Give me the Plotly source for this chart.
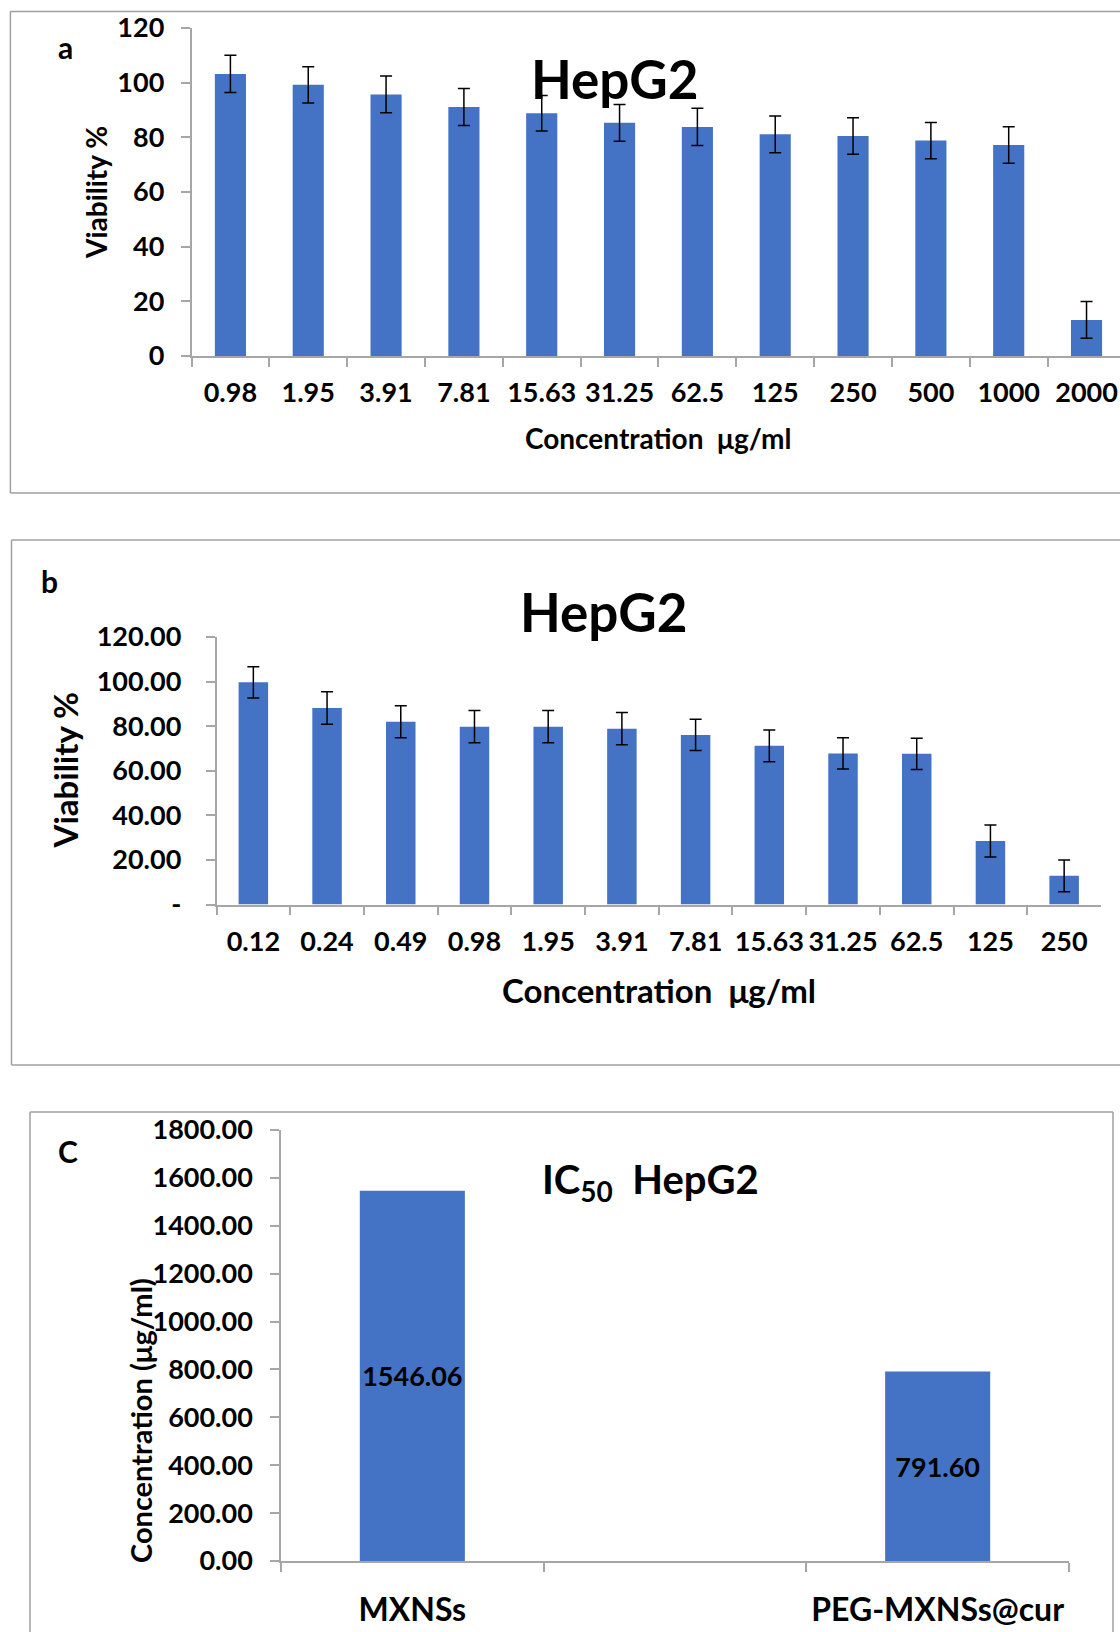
import plotly.graph_objects as go

# ---------------- data ----------------
a_conc = ["0.98", "1.95", "3.91", "7.81", "15.63", "31.25", "62.5", "125", "250", "500", "1000", "2000"]
a_viability = [103.2, 99.2, 95.7, 91.1, 88.8, 85.3, 83.8, 81.1, 80.5, 78.8, 77.2, 13.2]
a_err = [6.8, 6.6, 6.7, 6.8, 6.5, 6.7, 6.8, 6.7, 6.7, 6.6, 6.7, 6.7]

b_conc = ["0.12", "0.24", "0.49", "0.98", "1.95", "3.91", "7.81", "15.63", "31.25", "62.5", "125", "250"]
b_viability = [99.7, 88.2, 82.0, 79.8, 79.8, 78.9, 76.1, 71.2, 67.8, 67.6, 28.5, 12.9]
b_err = [7.0, 7.3, 7.2, 7.2, 7.2, 7.2, 7.0, 7.1, 7.0, 7.0, 7.2, 7.1]
b_tickvals = [0, 20, 40, 60, 80, 100, 120]
b_ticktext = ["-", "20.00", "40.00", "60.00", "80.00", "100.00", "120.00"]

c_samples = ["MXNSs", " ", "PEG-MXNSs@cur"]
c_ic50 = [1546.06, None, 791.60]

# ---------------- style ----------------
W, H = 1120, 1632
FONT = "Lato"
BLUE = "#4472C4"
AX = "#A6A6A6"
BORDER = "#A0A0A0"


def px(x):
    return x / W


def py(y):
    return 1 - y / H


fig = go.Figure()

err_style = dict(type="data", visible=True, color="black", thickness=1.5, width=6)

fig.add_trace(go.Bar(x=a_conc, y=a_viability, marker=dict(color=BLUE, line=dict(width=0)),
                     error_y=dict(array=a_err, **err_style), xaxis="x", yaxis="y"))
fig.add_trace(go.Bar(x=b_conc, y=b_viability, marker=dict(color=BLUE, line=dict(width=0)),
                     error_y=dict(array=b_err, **err_style), xaxis="x2", yaxis="y2"))
fig.add_trace(go.Bar(x=c_samples, y=c_ic50, marker=dict(color=BLUE, line=dict(width=0)),
                     texttemplate="%{y:.2f}", textposition="inside", insidetextanchor="middle",
                     constraintext="none", textangle=0,
                     textfont=dict(family=FONT, size=27, color="black", weight=700),
                     xaxis="x3", yaxis="y3"))

common_x = dict(type="category", showline=True, linecolor=AX, linewidth=1.5, ticks="outside",
                tickson="boundaries", ticklen=9, tickcolor=AX, tickwidth=1.5, showgrid=False,
                zeroline=False, fixedrange=True, automargin=False, tickangle=0)
common_y = dict(showline=True, linecolor=AX, linewidth=1.5, ticks="outside", ticklen=9,
                tickcolor=AX, tickwidth=1.5, showgrid=False, zeroline=False, fixedrange=True,
                automargin=False)

tick_font = dict(family=FONT, size=27, color="black", weight=700)

fig.update_layout(
    width=W, height=H, autosize=False,
    margin=dict(l=0, r=0, t=0, b=0, pad=0, autoexpand=False),
    paper_bgcolor="white", plot_bgcolor="white", showlegend=False, bargap=0.6,
    font=dict(family=FONT, color="black"),
    xaxis=dict(domain=[px(191.5), 1.0], range=[-0.5, 11.43], tickfont=tick_font,
               ticklabelstandoff=12, anchor="y", **common_x),
    yaxis=dict(domain=[py(356), py(28)], range=[0, 120], tickvals=[0, 20, 40, 60, 80, 100, 120],
               tickfont=tick_font, ticklabelstandoff=11, anchor="x", **common_y),
    xaxis2=dict(domain=[px(216.5), px(1101)], range=[-0.5, 11.5], tickfont=tick_font,
                ticklabelstandoff=12, anchor="y2", **common_x),
    yaxis2=dict(domain=[py(904.6), py(637)], range=[0, 120], tickvals=b_tickvals, ticktext=b_ticktext,
                tickfont=tick_font, ticklabelstandoff=19, anchor="x2", **common_y),
    xaxis3=dict(domain=[px(281), px(1069)], range=[-0.5, 2.5],
                tickfont=dict(family=FONT, size=32, color="black", weight=700),
                ticklabelstandoff=20, anchor="y3", **common_x),
    yaxis3=dict(domain=[py(1561), py(1130)], range=[0, 1800], dtick=200, tickformat=".2f",
                tickfont=tick_font, ticklabelstandoff=12, anchor="x3", **common_y),
)


def ann(text, x, y, size, angle=0):
    fig.add_annotation(text=text, x=px(x), y=py(y), xref="paper", yref="paper",
                       showarrow=False, textangle=angle, xanchor="center", yanchor="middle",
                       font=dict(family=FONT, size=size, color="black", weight=700))


# panel a
ann("a", 65, 47, 30)
ann("HepG2", 615, 78, 53)
ann("Viability %", 96, 193, 28, -90)
ann("Concentration  μg/ml", 658, 438, 28)
# panel b
ann("b", 49, 581, 30)
ann("HepG2", 604, 611, 53)
ann("Viability %", 64.5, 770, 33, -90)
ann("Concentration  μg/ml", 659, 990, 33)
# panel c
ann("C", 68, 1151, 30)
ann("IC<sub>50</sub>  HepG2", 650, 1181, 40)
ann("Concentration (μg/ml)", 140, 1421, 29, -90)


# panel borders
def line(x0, y0, x1, y1):
    fig.add_shape(type="line", xref="paper", yref="paper", x0=px(x0), y0=py(y0), x1=px(x1), y1=py(y1),
                  line=dict(color=BORDER, width=1.5))


line(10.4, 11.4, 1120, 11.4)
line(10.4, 11.4, 10.4, 493)
line(10.4, 493, 1120, 493)

line(11.5, 540, 1120, 540)
line(11.5, 540, 11.5, 1065)
line(11.5, 1065, 1120, 1065)

line(30, 1112, 1113, 1112)
line(30, 1112, 30, 1632)
line(1113, 1112, 1113, 1632)

fig.write_html("out.html")
